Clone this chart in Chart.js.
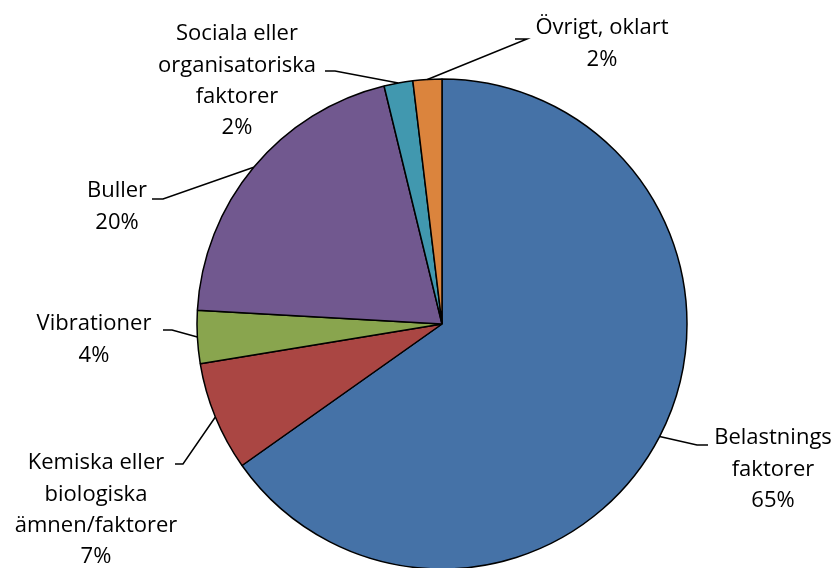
<!DOCTYPE html>
<html>
<head>
<meta charset="utf-8">
<script src="https://cdn.jsdelivr.net/npm/chart.js@4/dist/chart.umd.min.js"></script>
<style>
  html, body { margin: 0; padding: 0; background: #fff; }
  #wrap { width: 838px; height: 568px; position: relative; }
</style>
</head>
<body>
<div id="wrap"><canvas id="c" width="838" height="568"></canvas></div>
<script>
// ---- data ----
const categories = [
  ["Belastnings", "faktorer"],
  ["Kemiska eller", "biologiska", "ämnen/faktorer"],
  ["Vibrationer"],
  ["Buller"],
  ["Sociala eller", "organisatoriska", "faktorer"],
  ["Övrigt, oklart"]
];
const shares = [65.2, 7.2, 3.5, 20.3, 1.9, 1.9];
const percentLabels = ["65%", "7%", "4%", "20%", "2%", "2%"];
const colors = ["#4572A7", "#AA4643", "#89A54E", "#71588F", "#4198AF", "#DB843D"];

// ---- label layout (pixel placement of text boxes and leader elbows) ----
const labelLayout = [
  { cx: 773, y0: 438, ex: 697, ey: 445, hx: 708 },
  { cx: 96,  y0: 463, ex: 183, ey: 464, hx: 175 },
  { cx: 94,  y0: 324, ex: 172, ey: 330, hx: 163 },
  { cx: 117, y0: 191, ex: 163, ey: 199, hx: 152 },
  { cx: 237, y0: 34,  ex: 335, ey: 71,  hx: 325 },
  { cx: 602, y0: 28,  ex: 527, ey: 39,  hx: 515 }
];

const FONT = '22px "Open Sans", "Lato", sans-serif';
const LINE_H = 31.3;

const labelPlugin = {
  id: 'outerLabels',
  afterDatasetsDraw(chart) {
    const ctx = chart.ctx;
    const meta = chart.getDatasetMeta(0);
    ctx.save();
    meta.data.forEach((arc, i) => {
      const mid = (arc.startAngle + arc.endAngle) / 2;
      const px = arc.x + Math.cos(mid) * arc.outerRadius;
      const py = arc.y + Math.sin(mid) * arc.outerRadius;
      const L = labelLayout[i];
      ctx.strokeStyle = '#000';
      ctx.lineWidth = 1.5;
      ctx.beginPath();
      ctx.moveTo(px, py);
      ctx.lineTo(L.ex, L.ey);
      ctx.lineTo(L.hx, L.ey);
      ctx.stroke();
      const lines = categories[i].concat([percentLabels[i]]);
      ctx.fillStyle = '#000';
      ctx.font = FONT;
      ctx.textAlign = 'center';
      ctx.textBaseline = 'middle';
      lines.forEach((t, k) => ctx.fillText(t, L.cx, L.y0 + k * LINE_H));
    });
    ctx.restore();
  }
};

new Chart(document.getElementById('c'), {
  type: 'pie',
  data: {
    labels: categories.map(c => c.join(' ')),
    datasets: [{
      data: shares,
      backgroundColor: colors,
      borderColor: '#000',
      borderWidth: 1.5,
      radius: 245
    }]
  },
  options: {
    responsive: false,
    animation: false,
    layout: { padding: { left: 46, right: 0, top: 80, bottom: 0 } },
    plugins: {
      legend: { display: false },
      tooltip: { enabled: false }
    }
  },
  plugins: [labelPlugin]
});
</script>
</body>
</html>
